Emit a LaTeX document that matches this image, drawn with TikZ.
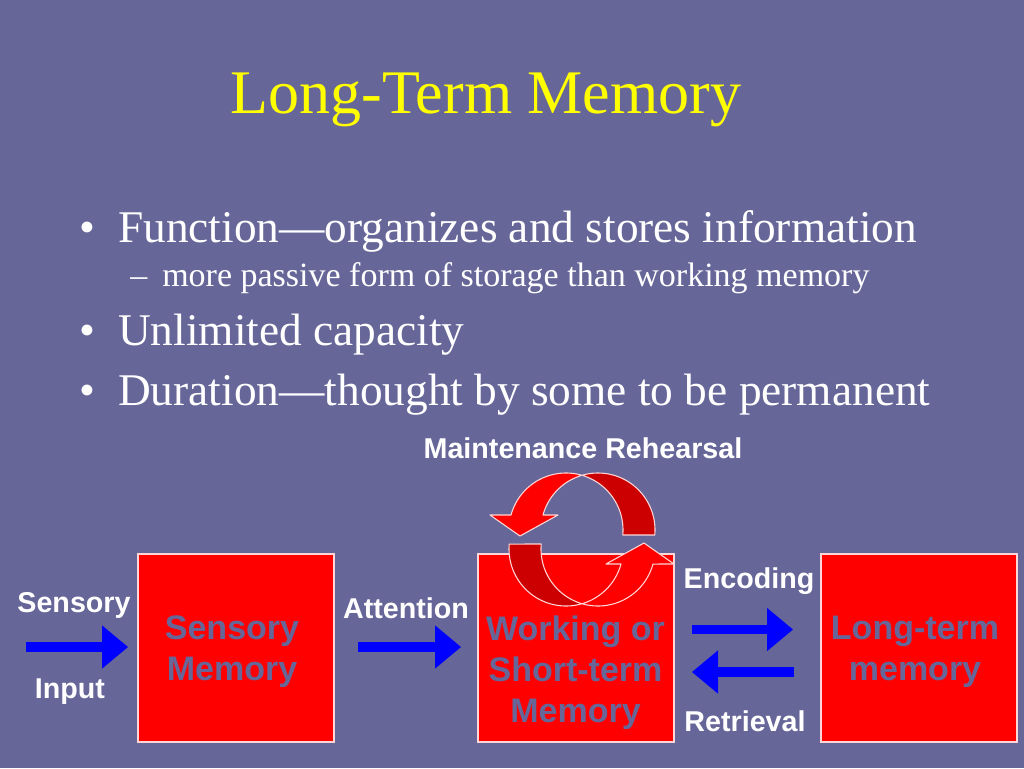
\documentclass[tikz,border=0pt]{standalone}
\usepackage{fontspec}
\setmainfont{Liberation Serif}
\setsansfont{Liberation Sans}
\usetikzlibrary{arrows.meta}
\definecolor{bg}{RGB}{102,102,153}
\definecolor{titleyellow}{RGB}{255,255,0}
\definecolor{boxred}{RGB}{255,0,0}
\definecolor{loopred}{RGB}{204,0,0}
\definecolor{edgepink}{RGB}{255,215,215}
\definecolor{arrblue}{RGB}{0,0,255}
\newcommand\memloop{%
  \filldraw[loopdark] plot[domain=0:1,samples=50] ({598+57*cos(-106.3+111.33*\x)},{530+57*sin(-106.3+111.33*\x)})
     -- plot[domain=0:1,samples=50] ({566+57*cos(5.03-78.73*\x)},{530+57*sin(5.03-78.73*\x)}) -- cycle;
  \filldraw[looplight] plot[domain=0:1,samples=50] ({566+57*cos(-73.7-91.04*\x)},{530+57*sin(-73.7-91.04*\x)})
     -- (490,515) -- (520,536) -- (558,515)
     -- plot[domain=0:1,samples=50] ({598+57*cos(-164.74+58.44*\x)},{530+57*sin(-164.74+58.44*\x)}) -- cycle;
}
\begin{document}
\begin{tikzpicture}[x=0.75pt,y=-0.75pt,
  titletext/.style={font=\fontsize{46.5}{55}\selectfont, text=titleyellow, inner sep=0pt, anchor=base},
  bultext/.style={font=\fontsize{34}{40}\selectfont, text=white, inner sep=0pt, anchor=base west},
  subtext/.style={font=\fontsize{25.5}{30}\selectfont, text=white, inner sep=0pt, anchor=base west},
  lbl/.style={font=\sffamily\bfseries\fontsize{21.5}{25}\selectfont, text=white, inner sep=0pt},
  inbox/.style={font=\sffamily\bfseries\fontsize{25.5}{30.75}\selectfont, text=bg, align=center, inner sep=0pt},
  memstore/.style={draw=edgepink, line width=1.2pt, fill=boxred, minimum width=147pt, minimum height=141pt, inner sep=0pt, anchor=north west},
  blockarrow/.style={draw=arrblue, line width=7.2pt, -{Triangle[length=19.5pt,width=32.5pt,line width=0pt]}},
  loopdark/.style={fill=loopred, draw=edgepink, line width=0.8pt, line join=round},
  looplight/.style={fill=boxred, draw=edgepink, line width=0.8pt, line join=round}
]
\fill[bg] (0,0) rectangle (1024,768);
\useasboundingbox (0,0) rectangle (1024,768);

% title and bullets
\node[titletext] (title) at (486,113) {Long-Term Memory};
\node[bultext] (b1dot) at (79,242) {•};
\node[bultext] (b1) at (118,242) {Function—organizes and stores information};
\node[subtext] (s1dot) at (130,286) {–};
\node[subtext] (s1) at (162,286) {more passive form of storage than working memory};
\node[bultext] (b2dot) at (79,345) {•};
\node[bultext] (b2) at (118,345) {Unlimited capacity};
\node[bultext] (b3dot) at (79,405) {•};
\node[bultext] (b3) at (118,405) {Duration—thought by some to be permanent};

% boxes
\node[memstore] (sens) at (137,553) {};
\node[inbox] (senst) at (232,651.5) {Sensory\\Memory};
\node[memstore] (wm) at (477,553) {};
\node[inbox] (wmt) at (575.5,672.5) {Working or\\Short-term\\Memory};
\node[memstore] (ltm) at (820,553) {};
\node[inbox] (ltmt) at (915,651.5) {Long-term\\memory};

% maintenance rehearsal loop
\memloop
\begin{scope}[rotate around={180:(582,539.5)}]
\memloop
\end{scope}
\node[lbl] (maint) at (583,448) {Maintenance Rehearsal};

% blue arrows
\coordinate (in1) at (26,647);
\coordinate (in2) at (128,647);
\coordinate (at1) at (358,647);
\coordinate (at2) at (461,647);
\coordinate (en1) at (692,629.5);
\coordinate (en2) at (793,629.5);
\coordinate (re1) at (794,672);
\coordinate (re2) at (692,672);
\draw[blockarrow] (in1) -- (in2);
\draw[blockarrow] (at1) -- (at2);
\draw[blockarrow] (en1) -- (en2);
\draw[blockarrow] (re1) -- (re2);

% labels
\node[lbl] (senslbl) at (74,605) {Sensory};
\node[lbl] (inlbl) at (70,692) {Input};
\node[lbl] (attlbl) at (406,608) {Attention};
\node[lbl] (enclbl) at (749,581) {Encoding};
\node[lbl] (retlbl) at (745,721) {Retrieval};
\end{tikzpicture}
\end{document}
